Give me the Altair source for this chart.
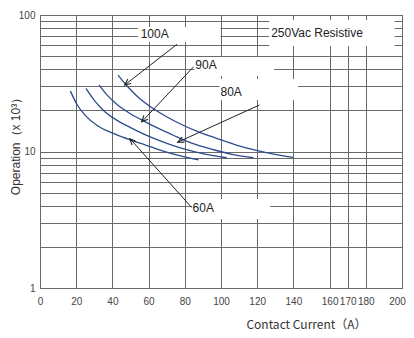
import math
import altair as alt
import pandas as pd

# ---- curve data (Contact current A, Operations x10^3) ----
c60_x = [16.8, 20.6, 25.0, 31.6, 40.9, 50.3, 58.0, 66.8, 76.6, 87.6]
c60_y = [27.7, 21.9, 18.4, 15.5, 13.5, 12.1, 11.2, 10.2, 9.35, 8.67]
c80_x = [25.4, 29.9, 35.4, 42.6, 50.3, 58.0, 66.8, 76.6, 90.4, 103.2]
c80_y = [29.0, 23.8, 19.8, 16.9, 14.9, 13.3, 11.9, 10.7, 9.6, 9.0]
c90_x = [32.7, 37.1, 42.6, 49.7, 57.4, 65.7, 73.9, 83.8, 95.9, 106.9, 117.9]
c90_y = [30.7, 25.9, 22.1, 19.0, 16.7, 14.7, 13.1, 11.5, 10.3, 9.5, 9.0]
c100_x = [43.1, 48.1, 54.7, 62.9, 71.2, 79.4, 87.6, 97.5, 108.0, 119.5, 130.5, 139.8]
c100_y = [36.3, 30.2, 24.7, 20.5, 17.6, 15.5, 13.9, 12.5, 11.2, 10.2, 9.5, 9.07]

# ---- annotation labels ----
lab_text = ["100A", "250Vac Resistive", "90A", "80A", "60A"]
lab_x = [55.6, 127.7, 85.8, 99.7, 84.3]
lab_y = [72.6, 73.8, 43.0, 27.3, 3.86]

# white boxes behind labels (data units)
box_x = [54.1, 126.6, 85.4, 99.2, 83.8]
box_x2 = [99.7, 195.9, 129.4, 142.6, 127.2]
box_y = [63.4, 59.3, 35.7, 23.8, 3.20]
box_y2 = [81.7, 91.9, 49.2, 34.0, 4.49]

# arrows: start -> tip
arr_x = [75.7, 84.9, 121.2, 83.8]
arr_y = [61.0, 41.8, 21.9, 3.89]
arr_x2 = [46.8, 56.2, 76.1, 49.7]
arr_y2 = [30.7, 16.5, 11.7, 12.4]

x_ticks = [0, 20, 40, 60, 80, 100, 120, 140, 160, 170, 180, 200]
y_ticks = [1, 2, 3, 4, 5, 6, 7, 8, 9, 10, 20, 30, 40, 50, 60, 70, 80, 90, 100]

W, H = 362, 273

def ppx(x):
    return x / 200 * W

def ppy(y):
    return H - math.log10(y) / 2 * H

rows = []
for name, xs_, ys_ in [("60A", c60_x, c60_y), ("80A", c80_x, c80_y),
                       ("90A", c90_x, c90_y), ("100A", c100_x, c100_y)]:
    for i, (a, b) in enumerate(zip(xs_, ys_)):
        rows.append({"x": a, "y": b, "curve": name, "i": i})
curves = pd.DataFrame(rows)

labels = pd.DataFrame({"x": lab_x, "y": lab_y, "t": lab_text})
boxes = pd.DataFrame({"x": box_x, "x2": box_x2, "y": box_y, "y2": box_y2})
angles = []
for a, b, c, d in zip(arr_x, arr_y, arr_x2, arr_y2):
    dx = ppx(c) - ppx(a)
    dy = ppy(d) - ppy(b)
    angles.append((math.degrees(math.atan2(dx, -dy)) + 360) % 360)
arrows = pd.DataFrame({"x": arr_x, "y": arr_y, "x2": arr_x2, "y2": arr_y2, "ang": angles})

xs = alt.Scale(domain=[0, 200], nice=False, zero=False)
ys = alt.Scale(type="log", domain=[1, 100], nice=False)

x_axis = alt.Axis(
    values=x_ticks, grid=True, gridColor="#6a6a6a", gridWidth=1, domain=False,
    ticks=False, labelPadding=8, labelFontSize=10, labelColor="#444",
    labelFont="Liberation Sans", labelOverlap=False, labelFlush=False,
    labelOffset={"condition": {"test": "datum.value == 200", "value": -5}, "value": 0},
    title="Contact Current（A）", titleFontSize=12, titleFontWeight="normal",
    titleColor="#333", titleFont="Noto Sans CJK SC", titleX=266, titleY=36,
    titleAlign="center", titleBaseline="middle",
)
y_axis = alt.Axis(
    values=y_ticks, grid=True, gridColor="#6a6a6a", gridWidth=1, domain=False,
    ticks=False, labelPadding=5, labelFontSize=10, labelColor="#444",
    labelFont="Liberation Sans", labelOverlap=False, labelFlush=False,
    labelExpr="(datum.value == 1 || datum.value == 10 || datum.value == 100) ? format(datum.value, 'd') : ''",
    title="Operation（x 10³）", titleFontSize=12, titleFontWeight="normal",
    titleColor="#333", titleFont="Liberation Sans", titleX=-25, titleY=128,
    titleAngle=270, titleAlign="center", titleBaseline="middle",
)

X = lambda f: alt.X(f, scale=xs, axis=x_axis)
Y = lambda f: alt.Y(f, scale=ys, axis=y_axis)

box_layer = alt.Chart(boxes).mark_rect(color="white").encode(
    x=X("x:Q"), x2="x2:Q", y=Y("y:Q"), y2="y2:Q",
)

base_curves = alt.Chart(curves).mark_line(
    color="#2d4b8e", strokeWidth=1.3, interpolate="monotone"
).encode(
    x=X("x:Q"), y=Y("y:Q"), detail="curve:N", order="i:Q",
)

arrow_lines = alt.Chart(arrows).mark_rule(color="#222", strokeWidth=1).encode(
    x=X("x:Q"), x2="x2:Q", y=Y("y:Q"), y2="y2:Q",
)

arrow_heads = alt.Chart(arrows).mark_point(
    shape="M-0.45,1L0,0L0.45,1", filled=False, color="#222",
    strokeWidth=1.1, size=150, opacity=1,
).encode(
    x=X("x2:Q"), y=Y("y2:Q"), angle=alt.Angle("ang:Q", scale=None),
)

text_layer = alt.Chart(labels).mark_text(
    align="left", baseline="middle", fontSize=12, font="Liberation Sans",
    color="#222",
).encode(
    x=X("x:Q"), y=Y("y:Q"), text="t:N",
)

chart = alt.layer(
    box_layer, base_curves, arrow_lines, arrow_heads, text_layer
).properties(
    width=W, height=H,
    autosize=alt.AutoSizeParams(type="none"),
    padding={"left": 32, "top": 7, "right": 4, "bottom": 45},
).configure_view(
    stroke="#555", strokeWidth=1
)

chart.save("out.html", embed_options={"renderer": "svg", "actions": False})
